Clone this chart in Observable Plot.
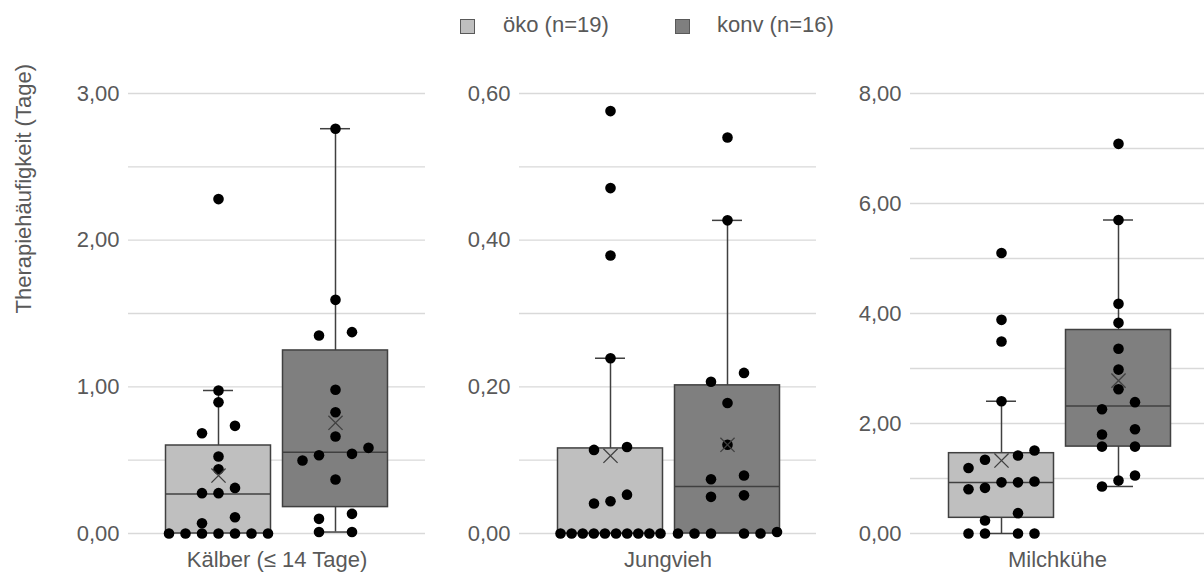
<!DOCTYPE html>
<html><head><meta charset="utf-8">
<script src="https://cdn.jsdelivr.net/npm/d3@7"></script>
<script src="https://cdn.jsdelivr.net/npm/@observablehq/plot@0.6"></script>
<style>
body{margin:0;background:#fff;font-family:"Liberation Sans",Arial,sans-serif;}
#wrap{position:relative;width:1204px;height:582px;overflow:hidden;background:#fff;}
.panel{position:absolute;top:0;}
#legend{position:absolute;top:12px;left:0;width:1204px;height:26px;color:#595959;font-size:22px;}
.sw{position:absolute;top:7px;width:15px;height:15px;border:1px solid #595959;box-sizing:border-box;}
.lt{position:absolute;top:0;line-height:26px;white-space:pre;}
</style></head>
<body><div id="wrap"><div id="legend"></div></div>
<script>
// ---- categories & series ----
const categories = ["Kälber (≤ 14 Tage)", "Jungvieh", "Milchkühe"];
const groups = ["öko", "konv"];
const groupLabels = ["öko (n=19)", "konv (n=16)"];
const yTitle = "Therapiehäufigkeit (Tage)";

// tick labels / gridlines per panel
const ticksKaelber = [0, 1, 2, 3];
const gridKaelber = [0, 0.5, 1, 1.5, 2, 2.5, 3];
const ticksJungvieh = [0, 0.2, 0.4, 0.6];
const gridJungvieh = [0, 0.1, 0.2, 0.3, 0.4, 0.5, 0.6];
const ticksMilch = [0, 2, 4, 6, 8];
const gridMilch = [0, 1, 2, 3, 4, 5, 6, 7, 8];

// individual farm values
const kaelberOeko = [0, 0, 0, 0, 0, 0, 0, 0.07, 0.111, 0.275, 0.275, 0.311, 0.438, 0.525, 0.684, 0.734, 0.895, 0.975, 2.28];
const kaelberKonv = [0.01, 0.01, 0.10, 0.134, 0.368, 0.498, 0.534, 0.543, 0.584, 0.661, 0.827, 0.98, 1.35, 1.373, 1.593, 2.76];
const jungviehOeko = [0, 0, 0, 0, 0, 0, 0, 0, 0, 0, 0.041, 0.044, 0.053, 0.114, 0.118, 0.239, 0.379, 0.471, 0.576];
const jungviehKonv = [0, 0, 0, 0, 0, 0.002, 0.050, 0.052, 0.074, 0.079, 0.121, 0.178, 0.207, 0.219, 0.427, 0.540];
const milchOeko = [0, 0, 0, 0, 0.236, 0.37, 0.805, 0.83, 0.93, 0.93, 0.945, 1.19, 1.34, 1.418, 1.51, 2.405, 3.49, 3.885, 5.10];
const milchKonv = [0.855, 0.964, 1.055, 1.58, 1.58, 1.80, 1.896, 2.26, 2.388, 2.624, 2.98, 3.358, 3.83, 4.176, 5.70, 7.085];

// box statistics, order: [öko, konv] per category
const whiskerLow  = [[0, 0.01], [0, 0], [0, 0.855]];
const quartile1   = [[0, 0.18], [0, 0], [0.285, 1.58]];
const medians     = [[0.27, 0.554], [0, 0.064], [0.927, 2.32]];
const quartile3   = [[0.60, 1.248], [0.116, 0.202], [1.46, 3.70]];
const whiskerHigh = [[0.975, 2.76], [0.239, 0.427], [2.405, 5.70]];
const means       = [[0.395, 0.755], [0.106, 0.121], [1.327, 2.78]];

const seriesPoints = [[kaelberOeko, kaelberKonv], [jungviehOeko, jungviehKonv], [milchOeko, milchKonv]];
const ticksAll = [ticksKaelber, ticksJungvieh, ticksMilch];
const gridAll = [gridKaelber, gridJungvieh, gridMilch];

// ---- style / layout ----
const colorRange = ["#bfbfbf", "#7f7f7f"];
const ink = "#404040";
const textCol = "#595959";
const FONT = "Liberation Sans, Arial, sans-serif";
const H = 582, MT = 93, MB = 49, PLOT_H = H - MT - MB;
const STEP_PX = 117, BOX_PX = 105, CAP_PX = 30;
const SWARM_STEP = 16.5, SWARM_SPAN = 100, SWARM_GAP = 10;
const panels = [
  {left: 0, width: 430, ml: 128, mr: 5, c0: 90},
  {left: 430, width: 390, ml: 89, mr: 4, c0: 91},
  {left: 820, width: 384, ml: 90, mr: 0, c0: 91}
];
const fmt = d => d.toFixed(2).replace(".", ",");

// beeswarm-style horizontal layout for points with near-equal values
function swarm(vals, pxPerUnit) {
  const s = vals.map(v => ({v})).sort((a, b) => a.v - b.v);
  const grs = []; let cur = [];
  for (const p of s) {
    if (cur.length && (p.v - cur[cur.length - 1].v) * pxPerUnit >= SWARM_GAP) { grs.push(cur); cur = []; }
    cur.push(p);
  }
  if (cur.length) grs.push(cur);
  const out = [];
  for (const g of grs) {
    const n = g.length; let offs;
    if (n % 2 === 1) {
      const st = n > 1 ? Math.min(SWARM_STEP, SWARM_SPAN / (n - 1)) : 0;
      offs = g.map((_, i) => (i - (n - 1) / 2) * st);
    } else if (n * SWARM_STEP <= SWARM_SPAN + 1) {
      offs = g.map((_, i) => { const k = i - n / 2; return (k < 0 ? k : k + 1) * SWARM_STEP; });
    } else {
      const st = SWARM_SPAN / (n - 1);
      offs = g.map((_, i) => (i - (n - 1) / 2) * st);
    }
    g.forEach((p, i) => out.push({v: p.v, off: offs[i]}));
  }
  return out;
}

const wrap = document.getElementById("wrap");

categories.forEach((cat, ci) => {
  const P = panels[ci];
  const plotW = P.width - P.ml - P.mr;
  const yMax = gridAll[ci][gridAll[ci].length - 1];
  const pxPerUnit = PLOT_H / yMax;
  const xDom = [-P.c0 / STEP_PX, (plotW - P.c0) / STEP_PX];
  const hw = BOX_PX / 2 / STEP_PX, cw = CAP_PX / 2 / STEP_PX;

  const boxes = groups.map((g, gi) => ({
    group: g, c: gi,
    lo: whiskerLow[ci][gi], q1: quartile1[ci][gi], med: medians[ci][gi],
    q3: quartile3[ci][gi], hi: whiskerHigh[ci][gi], mean: means[ci][gi]
  }));
  const pts = [];
  groups.forEach((g, gi) => {
    swarm(seriesPoints[ci][gi], pxPerUnit).forEach(p => pts.push({group: g, v: p.v, x: gi + p.off / STEP_PX}));
  });

  const marks = [
    Plot.ruleY(gridAll[ci], {stroke: "#d9d9d9", strokeWidth: 1.3}),
    Plot.axisY(ticksAll[ci], {tickSize: 0, tickPadding: 9, tickFormat: fmt, label: null, fontSize: 22, fill: textCol}),
    Plot.ruleX(boxes, {x: "c", y1: "lo", y2: "hi", stroke: ink, strokeWidth: 1.5}),
    Plot.ruleY(boxes.filter(d => d.hi > d.q3), {x1: d => d.c - cw, x2: d => d.c + cw, y: "hi", stroke: ink, strokeWidth: 1.5}),
    Plot.ruleY(boxes.filter(d => d.lo < d.q1), {x1: d => d.c - cw, x2: d => d.c + cw, y: "lo", stroke: ink, strokeWidth: 1.5}),
    Plot.rectY(boxes, {x1: d => d.c - hw, x2: d => d.c + hw, y1: "q1", y2: "q3", fill: "group", stroke: ink, strokeWidth: 1.5}),
    Plot.ruleY(boxes, {x1: d => d.c - hw, x2: d => d.c + hw, y: "med", stroke: ink, strokeWidth: 1.5}),
    Plot.dot(pts, {x: "x", y: "v", r: 5.3, fill: "black", stroke: "none"}),
    Plot.dot(boxes, {x: "c", y: "mean", symbol: "times", r: 6.5, stroke: ink, strokeWidth: 1.3}),
    Plot.text([cat], {text: d => d, frameAnchor: "bottom", dy: 33, fontSize: 22, fill: textCol})
  ];
  if (ci === 0) marks.push(Plot.text([yTitle], {text: d => d, frameAnchor: "left", dx: -105, rotate: -90, fontSize: 22, fill: textCol}));

  const chart = Plot.plot({
    width: P.width, height: H,
    marginTop: MT, marginBottom: MB, marginLeft: P.ml, marginRight: P.mr,
    x: {domain: xDom, axis: null},
    y: {domain: [0, yMax], axis: null},
    color: {domain: groups, range: colorRange},
    style: {fontFamily: FONT, fontSize: "22px", color: textCol, background: "transparent", overflow: "visible"},
    marks
  });
  const div = document.createElement("div");
  div.className = "panel";
  div.style.left = P.left + "px";
  div.appendChild(chart);
  wrap.appendChild(div);
});

// legend
const legend = document.getElementById("legend");
const legendPos = [{sw: 460, tx: 503}, {sw: 675, tx: 717}];
groupLabels.forEach((lab, i) => {
  const sw = document.createElement("div");
  sw.className = "sw"; sw.style.left = legendPos[i].sw + "px"; sw.style.background = colorRange[i];
  const t = document.createElement("div");
  t.className = "lt"; t.style.left = legendPos[i].tx + "px"; t.textContent = lab;
  legend.appendChild(sw); legend.appendChild(t);
});
</script>
</body></html>
